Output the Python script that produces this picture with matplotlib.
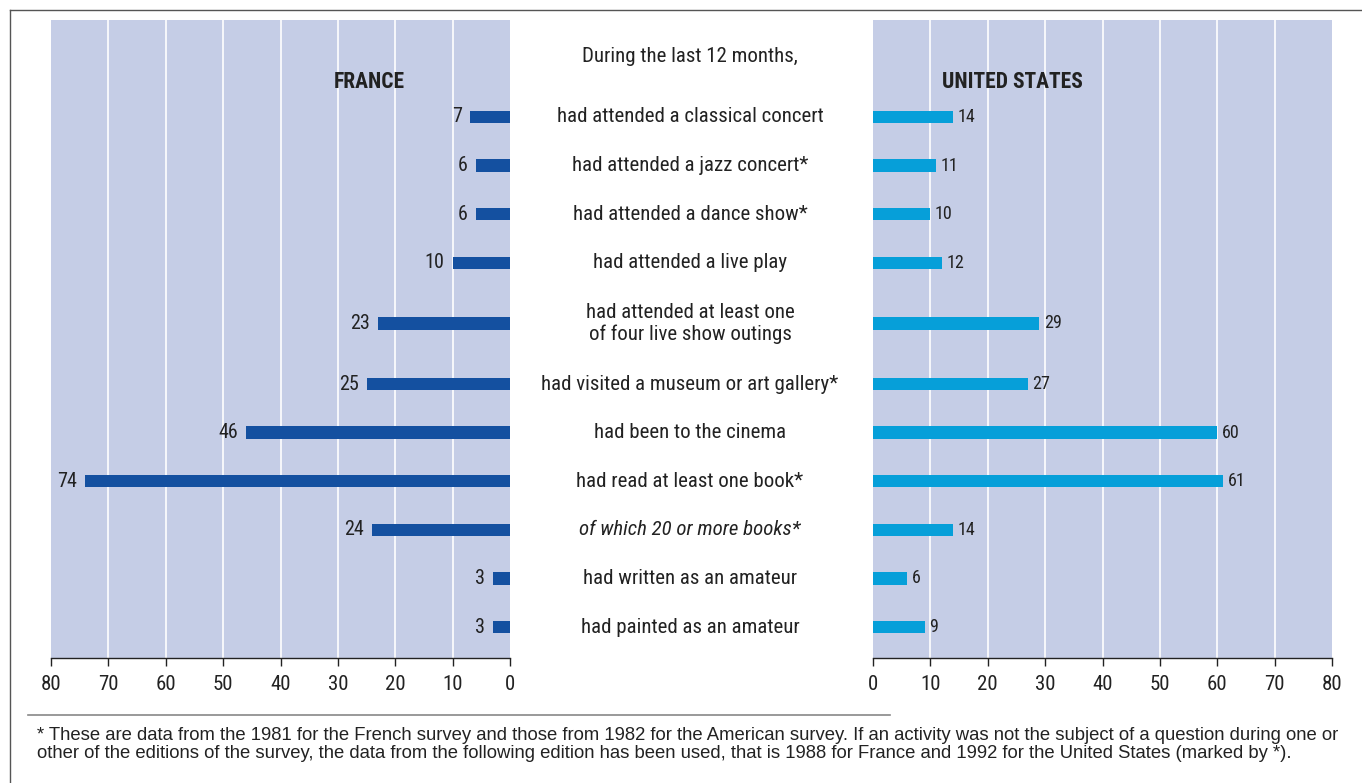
import matplotlib.pyplot as plt
from matplotlib.lines import Line2D
from matplotlib import font_manager

# Data (percent)
activities = [
    "had attended a classical concert",
    "had attended a jazz concert*",
    "had attended a dance show*",
    "had attended a live play",
    "had attended at least one\nof four live show outings",
    "had visited a museum or art gallery*",
    "had been to the cinema",
    "had read at least one book*",
    "of which 20 or more books*",
    "had written as an amateur",
    "had painted as an amateur",
]
france = [7, 6, 6, 10, 23, 25, 46, 74, 24, 3, 3]
usa = [14, 11, 10, 12, 29, 27, 60, 61, 14, 6, 9]
italic_rows = [8]
ticks = [0, 10, 20, 30, 40, 50, 60, 70, 80]

footnote = [
    "* These are data from the 1981 for the French survey and those from 1982 for the American survey. "
    "If an activity was not the subject of a question during one or",
    "other of the editions of the survey, the data from the following edition has been used, "
    "that is 1988 for France and 1992 for the United States (marked by *).",
]

# condensed face for the chart texts, whichever is installed
names = {f.name for f in font_manager.fontManager.ttflist}
narrow = "Liberation Sans"
for cand in ["Roboto Condensed", "Archivo Narrow", "PT Sans Narrow", "Liberation Sans Narrow"]:
    if cand in names:
        narrow = cand
        break

BG = "#c5cde6"
C_FR = "#1450a0"
C_US = "#069fd9"
TXT = "#222222"

# row centres, extra space for two-line labels
nlines = [a.count("\n") + 1 for a in activities]
ypos = [117.0]
for i in range(1, len(activities)):
    ypos.append(ypos[-1] + 48.6 + 12 * ((nlines[i - 1] - 1) + (nlines[i] - 1)))

fig = plt.figure(figsize=(13.62, 7.83), dpi=100)
W, H = 1362, 783

def add_ax(x0, x1):
    return fig.add_axes([x0 / W, 1 - 658 / H, (x1 - x0) / W, 638 / H])

ax_fr = add_ax(51, 510)
ax_us = add_ax(873, 1332)

for ax, vals, col in [(ax_fr, france, C_FR), (ax_us, usa, C_US)]:
    ax.set_facecolor(BG)
    ax.barh(ypos, vals, height=12.5, color=col, zorder=3)
    ax.set_xlim(0, 80)
    ax.set_ylim(658, 20)
    for t in ticks[1:-1]:
        ax.axvline(t, color="white", lw=1.2, zorder=1)
    for s in ["top", "left", "right"]:
        ax.spines[s].set_visible(False)
    ax.spines["bottom"].set_color(TXT)
    ax.spines["bottom"].set_linewidth(1)
    ax.set_yticks([])
    ax.set_xticks(ticks)
    ax.set_xticklabels([str(t) for t in ticks], fontfamily=narrow, fontsize=15, color=TXT)
    ax.tick_params(axis="x", direction="out", length=6, width=1, color=TXT, pad=6)

ax_fr.invert_xaxis()

for y, v in zip(ypos, france):
    ax_fr.text(v + 1.4, y, str(v), ha="right", va="center", fontfamily=narrow,
               fontsize=14.5, color=TXT, zorder=4)
for y, v in zip(ypos, usa):
    ax_us.text(v + 0.8, y, str(v), ha="left", va="center", fontfamily=narrow,
               fontsize=13, color=TXT, zorder=4)

fig.text(369 / W, 1 - 82 / H, "FRANCE", ha="center", va="center",
         fontfamily=narrow, fontweight="bold", fontsize=15.5, color=TXT)
fig.text(1012 / W, 1 - 82 / H, "UNITED STATES", ha="center", va="center",
         fontfamily=narrow, fontweight="bold", fontsize=15.5, color=TXT)

# centre labels
for i, (y, lab) in enumerate(zip(ypos, activities)):
    fig.text(690 / W, 1 - y / H, lab, ha="center", va="center", fontfamily=narrow,
             fontsize=15, color=TXT, linespacing=1.17,
             fontstyle="italic" if i in italic_rows else "normal")
fig.text(690 / W, 1 - 56 / H, "During the last 12 months,", ha="center", va="center",
         fontfamily=narrow, fontsize=15, color=TXT)

# frame and footnote separator
fig.add_artist(Line2D([10 / W, 1], [1 - 10 / H, 1 - 10 / H], color="#555555", lw=1))
fig.add_artist(Line2D([10 / W, 10 / W], [0, 1 - 10 / H], color="#555555", lw=1))
fig.add_artist(Line2D([28 / W, 890 / W], [1 - 715 / H, 1 - 715 / H], color="#888888", lw=1.2))
for k, line in enumerate(footnote):
    fig.text(37 / W, 1 - (736 + 18 * k) / H, line, ha="left", va="center",
             fontfamily="Liberation Sans", fontsize=13.3, color=TXT)

fig.savefig("out.png", dpi=100)
